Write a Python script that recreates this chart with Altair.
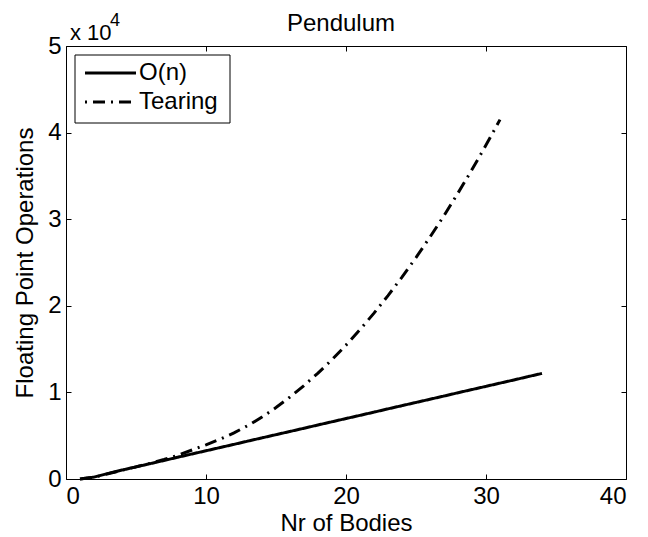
import altair as alt
import pandas as pd

FONT = "Liberation Sans"
FS = 24

n_on = list(range(1, 35))
flops_on = [0, 220, 640, 1030, 1400, 1770, 2140, 2520, 2890, 3260,
            3630, 4000, 4380, 4750, 5120, 5490, 5860, 6240, 6610, 6980,
            7350, 7720, 8100, 8470, 8840, 9210, 9580, 9960, 10330, 10700,
            11070, 11440, 11820, 12190]

n_tear = list(range(1, 32))
flops_tear = [0, 200, 600, 1000, 1400, 1800, 2250, 2750, 3350, 3950,
              4600, 5320, 6180, 7150, 8250, 9470, 10790, 12230, 13780, 15460,
              17260, 19150, 21180, 23310, 25570, 27940, 30410, 33020, 35730, 38560,
              41500]

series_names = ["O(n)", "Tearing"]
dashes = [[1, 0], [12, 6, 2, 6]]
x_ticks = [0, 10, 20, 30, 40]
y_ticks = [0, 10000, 20000, 30000, 40000, 50000]
title_text = "Pendulum"
x_title = "Nr of Bodies"
y_title = "Floating Point Operations"

df = pd.DataFrame(
    {"n": n_on + n_tear,
     "flops": flops_on + flops_tear,
     "series": [series_names[0]] * len(n_on) + [series_names[1]] * len(n_tear)}
)

xs = alt.Scale(domain=[0, 40], nice=False, zero=False)
ys = alt.Scale(domain=[0, 50000], nice=False)

bottom_axis = alt.Axis(values=x_ticks, orient="bottom", offset=-5, tickSize=5, domain=False,
                       grid=False, labelPadding=5, labelFontSize=FS, labelFont=FONT,
                       labelColor="black", tickColor="black", title=x_title,
                       titleFont=FONT, titleFontSize=FS, titleFontWeight="normal",
                       titleColor="black", titlePadding=3)
left_axis = alt.Axis(values=y_ticks, orient="left", offset=-5, tickSize=5, domain=False,
                     grid=False, labelPadding=5, labelFontSize=FS, labelFont=FONT,
                     labelColor="black", tickColor="black",
                     labelExpr="format(datum.value/10000, 'd')",
                     title=y_title, titleFont=FONT, titleFontSize=FS,
                     titleFontWeight="normal", titleColor="black", titlePadding=10)
top_axis = alt.Axis(values=x_ticks, orient="top", offset=-5, tickSize=5, domain=False,
                    grid=False, labels=False, tickColor="black", title=None)
right_axis = alt.Axis(values=y_ticks, orient="right", offset=-5, tickSize=5, domain=False,
                      grid=False, labels=False, tickColor="black", title=None)

lines = alt.Chart(df).mark_line(color="black", strokeWidth=3).encode(
    x=alt.X("n:Q", scale=xs, axis=bottom_axis),
    y=alt.Y("flops:Q", scale=ys, axis=left_axis),
    strokeDash=alt.StrokeDash(
        "series:N",
        scale=alt.Scale(domain=series_names, range=dashes),
        legend=None,
    ),
)

ticks = alt.Chart(df).mark_line(opacity=0).encode(
    x=alt.X("n:Q", scale=xs, axis=top_axis),
    y=alt.Y("flops:Q", scale=ys, axis=right_axis),
    detail="series:N",
)

one = pd.DataFrame({"k": [0]})

# Title and exponent annotation
title_mark = alt.Chart(one).mark_text(align="center", baseline="alphabetic", font=FONT,
                                      fontSize=FS, color="black", text=title_text).encode(
    x=alt.value(275), y=alt.value(-15))
mult = alt.Chart(one).mark_text(align="left", baseline="alphabetic", font=FONT,
                                fontSize=22, color="black", text="x 10").encode(
    x=alt.value(4), y=alt.value(-6))
sup = alt.Chart(one).mark_text(align="left", baseline="alphabetic", font=FONT,
                               fontSize=18, color="black", text="4").encode(
    x=alt.value(44), y=alt.value(-20))

# Legend box (MATLAB style, inside the axes)
leg_box = alt.Chart(one).mark_rect(fill="white", stroke="black", strokeWidth=1).encode(
    x=alt.value(9), x2=alt.value(164), y=alt.value(9), y2=alt.value(77))
leg_layers = [leg_box]
leg_rows = [27, 56]
leg_offsets = [0, 18]
for name, dash, yy, off in zip(series_names, dashes, leg_rows, leg_offsets):
    leg_layers.append(
        alt.Chart(one).mark_rule(color="black", strokeWidth=3, strokeDash=dash,
                                 strokeDashOffset=off).encode(
            x=alt.value(19), x2=alt.value(70), y=alt.value(yy))
    )
    leg_layers.append(
        alt.Chart(one).mark_text(align="left", baseline="middle", font=FONT, fontSize=FS,
                                 color="black", text=name).encode(
            x=alt.value(73), y=alt.value(yy))
    )

chart = alt.layer(lines, ticks, *leg_layers, title_mark, mult, sup).resolve_axis(
    x="independent", y="independent"
).resolve_scale(
    strokeDash="independent"
).properties(
    width=560, height=433,
    autosize=alt.AutoSizeParams(type="none"),
    padding={"left": 58, "top": 38, "right": 14, "bottom": 57},
    background="white",
).configure_view(
    stroke="black", strokeWidth=1
)

chart.save("out.html", embed_options={"renderer": "svg", "actions": False})
